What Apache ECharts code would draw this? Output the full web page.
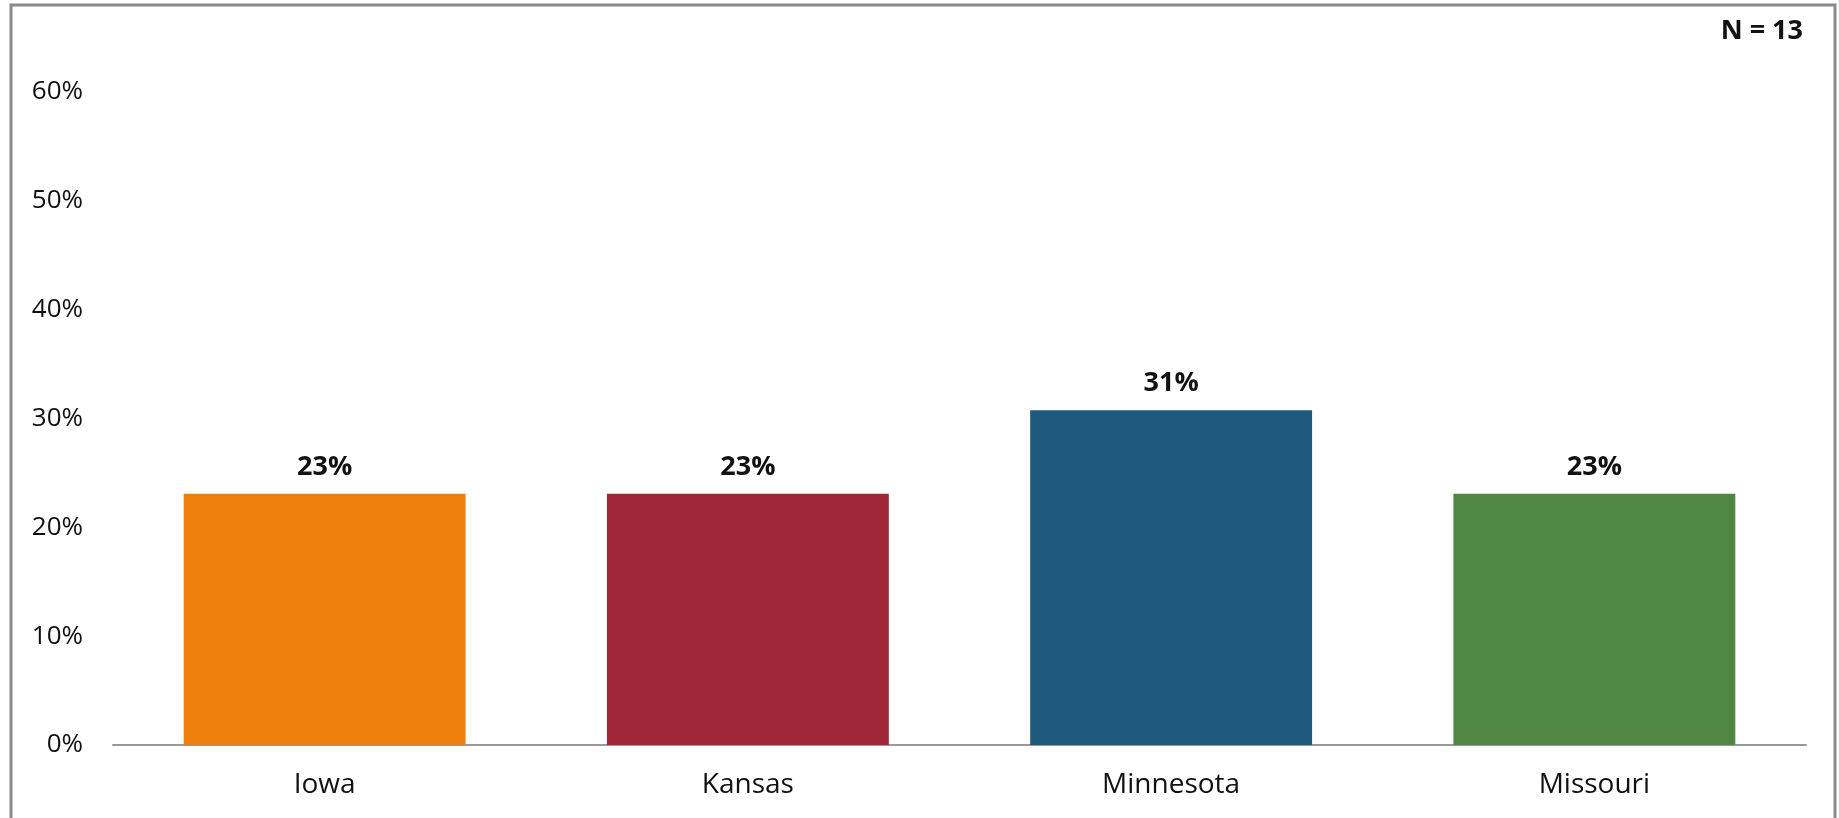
<!DOCTYPE html>
<html>
<head>
<meta charset="utf-8">
<script src="https://cdn.jsdelivr.net/npm/echarts@6/dist/echarts.min.js"></script>
<style>
html,body{margin:0;padding:0;background:#fff;}
#chart{width:1839px;height:818px;}
</style>
</head>
<body>
<div id="chart"></div>
<script>
const categories = ['Iowa', 'Kansas', 'Minnesota', 'Missouri'];
const values = [3/13, 3/13, 4/13, 3/13];
const barColors = ['#EF7F0B', '#9F2737', '#1E5A7B', '#4E8642'];
const yTicks = { min: 0, max: 0.6, interval: 0.1 };
const noteText = 'N = 13';

const FONT = '"Open Sans", "Noto Sans", sans-serif';
const chart = echarts.init(document.getElementById('chart'), null, { renderer: 'canvas' });
chart.setOption({
  animation: false,
  backgroundColor: '#fff',
  grid: { left: 113, right: 33, top: 92, bottom: 73, containLabel: false },
  xAxis: {
    type: 'category',
    data: categories,
    axisLine: { show: true, lineStyle: { color: '#999', width: 2 } },
    axisTick: { show: false },
    axisLabel: { color: '#111', fontFamily: FONT, fontSize: 28, margin: 26 }
  },
  yAxis: {
    type: 'value',
    min: yTicks.min, max: yTicks.max, interval: yTicks.interval,
    axisLine: { show: false },
    axisTick: { show: false },
    splitLine: { show: false },
    axisLabel: {
      color: '#111', fontFamily: FONT, fontSize: 26, margin: 30,
      formatter: v => Math.round(v * 100) + '%'
    }
  },
  series: [{
    type: 'bar',
    data: values.map((v, i) => ({ value: v, itemStyle: { color: barColors[i] } })),
    barCategoryGap: '33.4%',
    label: {
      show: true, position: 'top', distance: 13,
      color: '#111', fontFamily: FONT, fontSize: 27, fontWeight: 'bold',
      formatter: p => Math.round(p.value * 100) + '%'
    }
  }],
  graphic: [
    {
      type: 'rect', silent: true, z: -1,
      shape: { x: 11, y: 5, width: 1824, height: 830 },
      style: { fill: 'none', stroke: '#8a8a8a', lineWidth: 3 }
    },
    {
      type: 'text', right: 36, top: 18,
      style: { text: noteText, fill: '#111', font: 'bold 27px ' + FONT }
    }
  ]
});
</script>
</body>
</html>
